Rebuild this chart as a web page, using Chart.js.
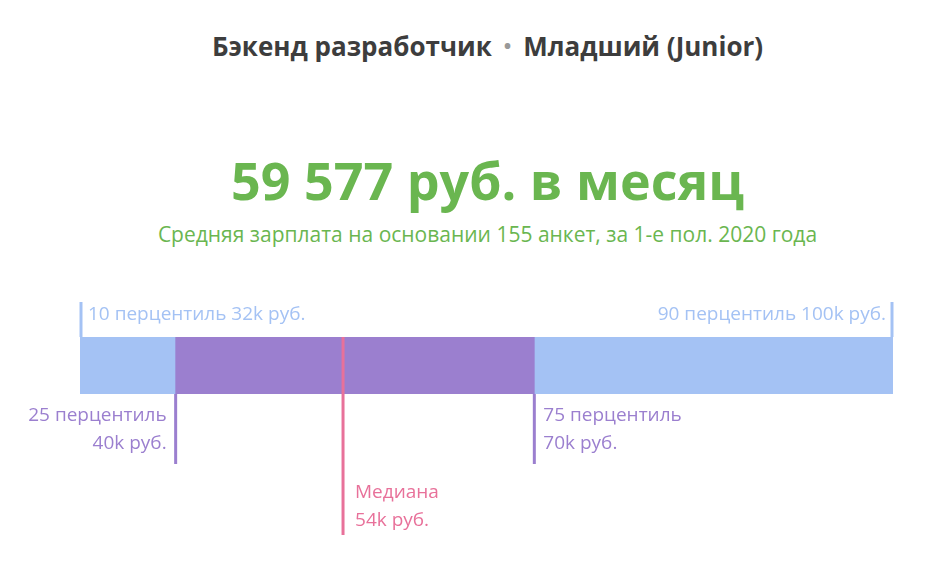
<!DOCTYPE html>
<html><head><meta charset="utf-8">
<script src="https://cdn.jsdelivr.net/npm/chart.js@4"></script>
<style>
body{margin:0;width:935px;height:567px;overflow:hidden;background:#fff;font-family:"Open Sans","Noto Sans",sans-serif;position:relative}
.t{position:absolute;left:0;width:975px;text-align:center;white-space:nowrap}
#wrap{position:absolute;left:0;top:0;width:935px;height:567px}
</style></head><body>
<div class="t" style="top:28px;font-size:26px;font-weight:700;color:#3d3d3d">Бэкенд разработчик <span style="color:#999;font-size:20px;position:relative;top:-3px">&nbsp;•&nbsp;</span> Младший (Junior)</div>
<div class="t" style="top:144px;font-size:52px;font-weight:700;color:#6ab650">59 577 руб. в месяц</div>
<div class="t" style="top:220px;font-size:21px;color:#6ab650">Средняя зарплата на основании 155 анкет, за 1-е пол. 2020 года</div>
<div id="wrap"><canvas id="c"></canvas></div>
<script>
const categories=["Зарплата"];
const range10_90=[32,100];
const range25_75=[40,70];
const median=54;
const labels={p10:"10 перцентиль 32k руб.",p90:"90 перцентиль 100k руб.",p25:["25 перцентиль","40k руб."],p75:["75 перцентиль","70k руб."],med:["Медиана","54k руб."]};
const ann={id:'ann',afterDraw(ch){
 const c=ch.ctx,x=ch.scales.x,a=ch.chartArea;
 c.save();c.font='19px "Open Sans","Noto Sans",sans-serif';c.textBaseline='middle';c.lineWidth=3;
 const line=(px,y1,y2,col)=>{c.strokeStyle=col;c.beginPath();c.moveTo(px,y1);c.lineTo(px,y2);c.stroke();};
 const lb='#a4c2f4',pu='#9b7fcf',pk='#e8719a';
 let x10=x.getPixelForValue(range10_90[0]),x90=x.getPixelForValue(range10_90[1]);
 line(x10+1,a.top-35,a.top,lb);line(x90-1,a.top-35,a.top,lb);
 c.fillStyle=lb;c.textAlign='left';c.fillText(labels.p10,x10+8,a.top-22);
 c.textAlign='right';c.fillText(labels.p90,x90-7,a.top-22);
 let x25=x.getPixelForValue(range25_75[0]),x75=x.getPixelForValue(range25_75[1]),xm=x.getPixelForValue(median);
 line(x25,a.bottom,a.bottom+70,pu);line(x75,a.bottom,a.bottom+70,pu);
 c.fillStyle=pu;c.textAlign='right';c.fillText(labels.p25[0],x25-9,a.bottom+22);c.fillText(labels.p25[1],x25-9,a.bottom+50);
 c.textAlign='left';c.fillText(labels.p75[0],x75+9,a.bottom+22);c.fillText(labels.p75[1],x75+9,a.bottom+50);
 line(xm,a.top,a.bottom+141,pk);
 c.fillStyle=pk;c.fillText(labels.med[0],xm+12,a.bottom+99);c.fillText(labels.med[1],xm+12,a.bottom+127);
 c.restore();}};
new Chart(document.getElementById('c'),{type:'bar',
 data:{labels:categories,datasets:[
  {data:[range25_75],backgroundColor:'#9b7fcf',barPercentage:1,categoryPercentage:1},
  {data:[range10_90],backgroundColor:'#a4c2f4',barPercentage:1,categoryPercentage:1}]},
 options:{indexAxis:'y',responsive:true,maintainAspectRatio:false,animation:false,
  layout:{padding:{left:80,right:42,top:337,bottom:173}},
  datasets:{bar:{grouped:false}},
  plugins:{legend:{display:false},tooltip:{enabled:false}},
  scales:{x:{type:'linear',min:32,max:100,display:false},y:{display:false}}},
 plugins:[ann]});
</script></body></html>
